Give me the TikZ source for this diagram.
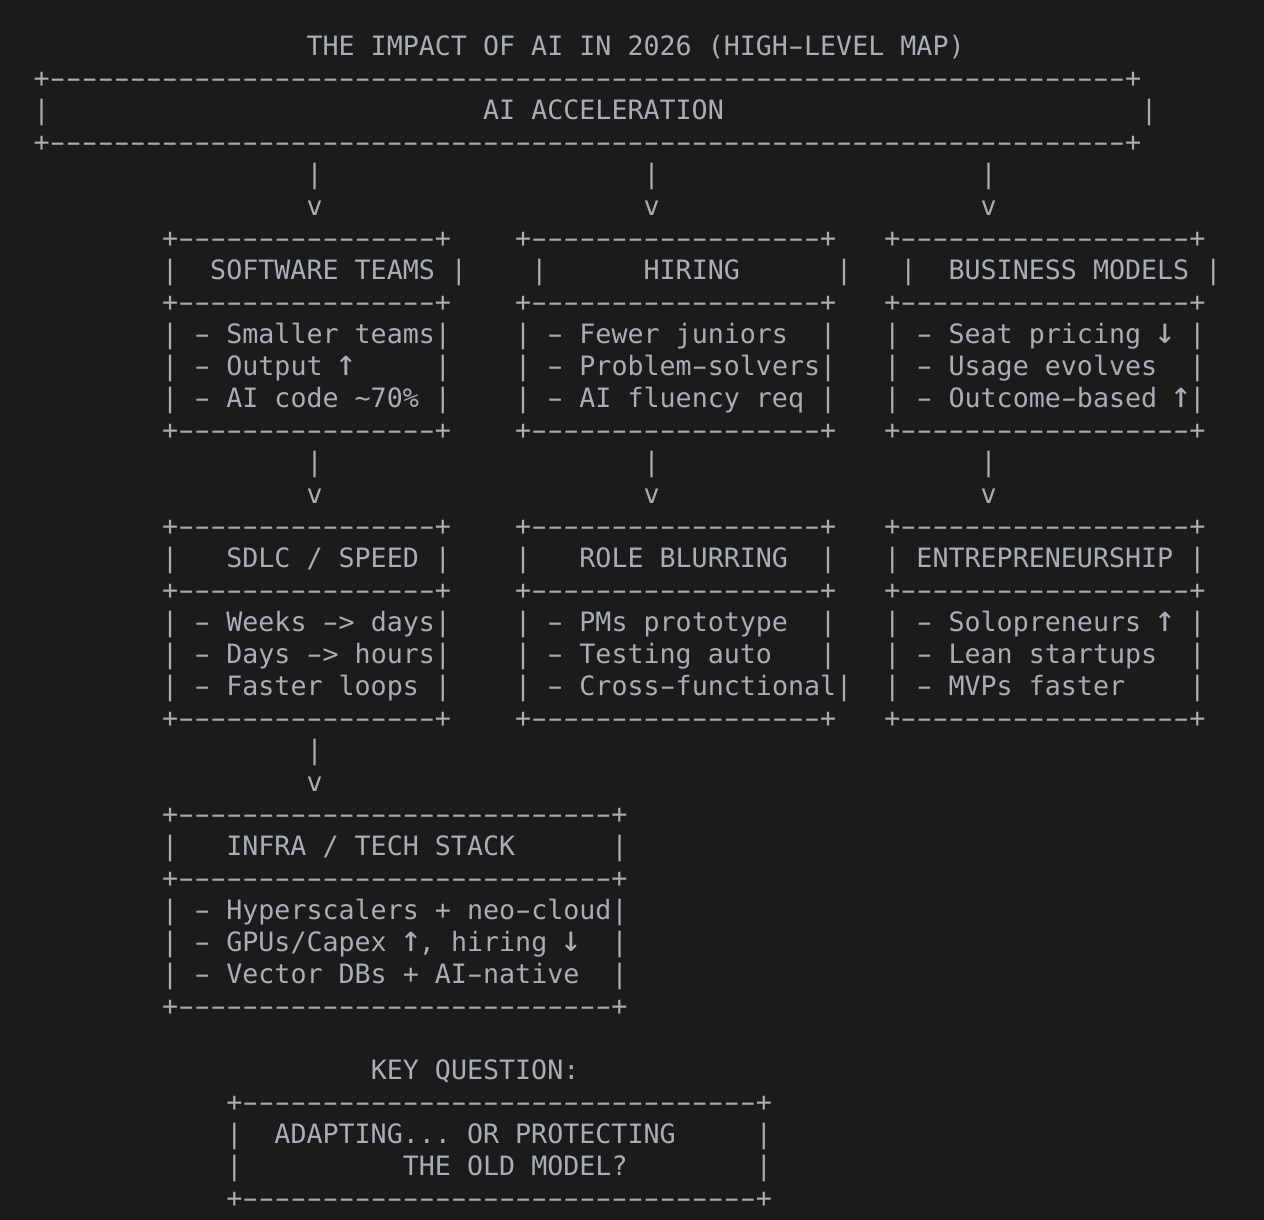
\documentclass[tikz,border=0pt]{standalone}
\usepackage{fontspec}
\setmonofont{DejaVu Sans Mono}
\definecolor{termbg}{HTML}{1B1B1B}
\definecolor{termfg}{HTML}{A7ADB9}
\newcommand{\hy}{\makebox[0.602em]{\scalebox{1.7}[1]{-}}}
\newcommand{\arr}[1]{\makebox[0.602em]{\scalebox{1.35}{#1}}}
\newcommand{\hedge}[1]{+\foreach \i in {1,...,#1}{\hy}+}
\frenchspacing
\begin{document}
\begin{tikzpicture}[x=0.5pt, y=-0.5pt,
  declare function={cx(\c)=33.7+16.05*\c; ry(\r)=55.5+32*\r;},
  txt/.style={anchor=base west, inner sep=0pt, outer sep=0pt, text=termfg,
    font=\ttfamily\fontsize{13.33pt}{16pt}\selectfont}]
  \fill[termbg] (0,0) rectangle (1264,1220);
  \useasboundingbox (0,0) rectangle (1264,1220);
  \node[txt] (title) at ({cx(17)},{ry(0)}) {THE IMPACT OF AI IN 2026 (HIGH\hy{}LEVEL MAP)};
  \node[txt] (acc-t) at ({cx(0)},{ry(1)}) {\hedge{67}};
  \node[txt] (acc-l) at ({cx(0)},{ry(2)}) {|};
  \node[txt] (acc) at ({cx(28)},{ry(2)}) {AI ACCELERATION};
  \node[txt] (acc-r) at ({cx(69)},{ry(2)}) {|};
  \node[txt] (acc-b) at ({cx(0)},{ry(3)}) {\hedge{67}};
  \foreach \c in {17,38,59} {
    \node[txt] (pipe-a\c) at ({cx(\c)},{ry(4)}) {|};
    \node[txt] (tip-a\c) at ({cx(\c)},{ry(5)}) {v};
    \node[txt] (pipe-b\c) at ({cx(\c)},{ry(13)}) {|};
    \node[txt] (tip-b\c) at ({cx(\c)},{ry(14)}) {v};
  }
  \foreach \c/\n in {8/16,30/18,53/18}
    \foreach \r in {6,8,12,15,17,21}
      \node[txt] (e\c-\r) at ({cx(\c)},{ry(\r)}) {\hedge{\n}};
  \node[txt] (sw) at ({cx(8)},{ry(7)}) {|~~SOFTWARE TEAMS |};
  \node[txt] (sw1) at ({cx(8)},{ry(9)}) {| \hy{} Smaller teams|};
  \node[txt] (sw2) at ({cx(8)},{ry(10)}) {| \hy{} Output \arr{↑}~~~~~|};
  \node[txt] (sw3) at ({cx(8)},{ry(11)}) {| \hy{} AI code \textasciitilde70\% |};
  \node[txt] (hire) at ({cx(31)},{ry(7)}) {|~~~~~~HIRING~~~~~~|};
  \node[txt] (hire1) at ({cx(30)},{ry(9)}) {| \hy{} Fewer juniors~~|};
  \node[txt] (hire2) at ({cx(30)},{ry(10)}) {| \hy{} Problem\hy{}solvers|};
  \node[txt] (hire3) at ({cx(30)},{ry(11)}) {| \hy{} AI fluency req |};
  \node[txt] (biz) at ({cx(54)},{ry(7)}) {|~~BUSINESS MODELS |};
  \node[txt] (biz1) at ({cx(53)},{ry(9)}) {| \hy{} Seat pricing \arr{↓} |};
  \node[txt] (biz2) at ({cx(53)},{ry(10)}) {| \hy{} Usage evolves~~|};
  \node[txt] (biz3) at ({cx(53)},{ry(11)}) {| \hy{} Outcome\hy{}based \arr{↑}|};
  \node[txt] (sdlc) at ({cx(8)},{ry(16)}) {|~~~SDLC / SPEED |};
  \node[txt] (sdlc1) at ({cx(8)},{ry(18)}) {| \hy{} Weeks \hy{}> days|};
  \node[txt] (sdlc2) at ({cx(8)},{ry(19)}) {| \hy{} Days \hy{}> hours|};
  \node[txt] (sdlc3) at ({cx(8)},{ry(20)}) {| \hy{} Faster loops |};
  \node[txt] (role) at ({cx(30)},{ry(16)}) {|~~~ROLE BLURRING~~|};
  \node[txt] (role1) at ({cx(30)},{ry(18)}) {| \hy{} PMs prototype~~|};
  \node[txt] (role2) at ({cx(30)},{ry(19)}) {| \hy{} Testing auto~~~|};
  \node[txt] (role3) at ({cx(30)},{ry(20)}) {| \hy{} Cross\hy{}functional|};
  \node[txt] (entre) at ({cx(53)},{ry(16)}) {| ENTREPRENEURSHIP |};
  \node[txt] (entre1) at ({cx(53)},{ry(18)}) {| \hy{} Solopreneurs \arr{↑} |};
  \node[txt] (entre2) at ({cx(53)},{ry(19)}) {| \hy{} Lean startups~~|};
  \node[txt] (entre3) at ({cx(53)},{ry(20)}) {| \hy{} MVPs faster~~~~|};
  \node[txt] (pipe-c) at ({cx(17)},{ry(22)}) {|};
  \node[txt] (tip-c) at ({cx(17)},{ry(23)}) {v};
  \foreach \r in {24,26,30}
    \node[txt] (infra-\r) at ({cx(8)},{ry(\r)}) {\hedge{27}};
  \node[txt] (infra) at ({cx(8)},{ry(25)}) {|~~~INFRA / TECH STACK~~~~~~|};
  \node[txt] (infra1) at ({cx(8)},{ry(27)}) {| \hy{} Hyperscalers + neo\hy{}cloud|};
  \node[txt] (infra2) at ({cx(8)},{ry(28)}) {| \hy{} GPUs/Capex \arr{↑}, hiring \arr{↓}~~|};
  \node[txt] (infra3) at ({cx(8)},{ry(29)}) {| \hy{} Vector DBs + AI\hy{}native~~|};
  \node[txt] (keyq) at ({cx(21)},{ry(32)}) {KEY QUESTION:};
  \foreach \r in {33,36}
    \node[txt] (key-\r) at ({cx(12)},{ry(\r)}) {\hedge{32}};
  \node[txt] (key1) at ({cx(12)},{ry(34)}) {|~~ADAPTING... OR PROTECTING~~~~~|};
  \node[txt] (key2) at ({cx(12)},{ry(35)}) {|~~~~~~~~~~THE OLD MODEL?~~~~~~~~|};
\end{tikzpicture}
\end{document}
